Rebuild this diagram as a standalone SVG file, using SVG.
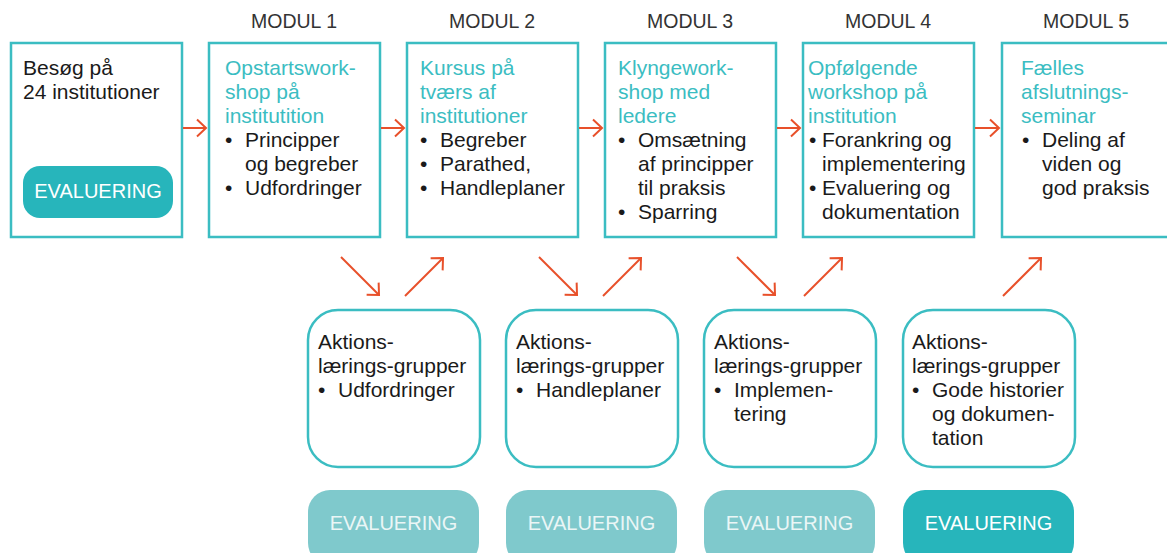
<svg xmlns="http://www.w3.org/2000/svg" width="1167" height="553" viewBox="0 0 1167 553">
<style>
.box{fill:#fff;stroke:#3bbdc2;stroke-width:2.5}
.t{font-family:"Liberation Sans",Arial,sans-serif;font-size:21px;fill:#1a1a1a}
.h{fill:#3bbdc2}
.mod{font-family:"Liberation Sans",Arial,sans-serif;font-size:19.5px;fill:#333;text-anchor:middle}
.ev{font-family:"Liberation Sans",Arial,sans-serif;font-size:20px;text-anchor:middle}
.pillA{fill:#27b5bb}
.pillB{fill:#7fc9cc}
.arr{stroke:#e8502a;stroke-width:2;fill:none;marker-end:url(#ah)}
</style>
<defs>
<marker id="ah" markerUnits="userSpaceOnUse" markerWidth="20" markerHeight="20" viewBox="0 0 20 20" refX="9" refY="8.5" orient="auto" overflow="visible">
<path d="M0,0 L9,8.5 L0,17" fill="none" stroke="#e8502a" stroke-width="2"/>
</marker>
</defs>
<g id="labels">
<text class="mod" x="294" y="28">MODUL 1</text>
<text class="mod" x="492" y="28">MODUL 2</text>
<text class="mod" x="690" y="28">MODUL 3</text>
<text class="mod" x="888" y="28">MODUL 4</text>
<text class="mod" x="1086" y="28">MODUL 5</text>
</g>
<g id="start">
<rect class="box" x="11" y="43" width="171" height="194"/>
<text class="t" x="23" y="75">Besøg på</text>
<text class="t" x="23" y="99">24 institutioner</text>
<rect class="pillA" x="23" y="166" width="150" height="52" rx="17"/>
<text class="ev" x="98" y="198" fill="#fff">EVALUERING</text>
</g>
<g id="m1">
<rect class="box" x="209" y="43" width="171" height="194"/>
<text class="t h" x="225" y="75">Opstartswork-</text>
<text class="t h" x="225" y="99">shop på</text>
<text class="t h" x="225" y="123">institutition</text>
<text class="t" x="225" y="147">•</text><text class="t" x="245" y="147">Principper</text>
<text class="t" x="245" y="171">og begreber</text>
<text class="t" x="225" y="195">•</text><text class="t" x="245" y="195">Udfordringer</text>
</g>
<g id="m2">
<rect class="box" x="407" y="43" width="171" height="194"/>
<text class="t h" x="420" y="75">Kursus på</text>
<text class="t h" x="420" y="99">tværs af</text>
<text class="t h" x="420" y="123">institutioner</text>
<text class="t" x="420" y="147">•</text><text class="t" x="440" y="147">Begreber</text>
<text class="t" x="420" y="171">•</text><text class="t" x="440" y="171">Parathed,</text>
<text class="t" x="420" y="195">•</text><text class="t" x="440" y="195">Handleplaner</text>
</g>
<g id="m3">
<rect class="box" x="605" y="43" width="171" height="194"/>
<text class="t h" x="618" y="75">Klyngework-</text>
<text class="t h" x="618" y="99">shop med</text>
<text class="t h" x="618" y="123">ledere</text>
<text class="t" x="618" y="147">•</text><text class="t" x="638" y="147">Omsætning</text>
<text class="t" x="638" y="171">af principper</text>
<text class="t" x="638" y="195">til praksis</text>
<text class="t" x="618" y="219">•</text><text class="t" x="638" y="219">Sparring</text>
</g>
<g id="m4">
<rect class="box" x="803" y="43" width="171" height="194"/>
<text class="t h" x="808" y="75">Opfølgende</text>
<text class="t h" x="808" y="99">workshop på</text>
<text class="t h" x="808" y="123">institution</text>
<text class="t" x="809" y="147">•</text><text class="t" x="822" y="147">Forankring og</text>
<text class="t" x="822" y="171">implementering</text>
<text class="t" x="809" y="195">•</text><text class="t" x="822" y="195">Evaluering og</text>
<text class="t" x="822" y="219">dokumentation</text>
</g>
<g id="m5">
<rect class="box" x="1002" y="43" width="180" height="194"/>
<text class="t h" x="1021" y="75">Fælles</text>
<text class="t h" x="1021" y="99">afslutnings-</text>
<text class="t h" x="1021" y="123">seminar</text>
<text class="t" x="1022" y="147">•</text><text class="t" x="1042" y="147">Deling af</text>
<text class="t" x="1042" y="171">viden og</text>
<text class="t" x="1042" y="195">god praksis</text>
</g>
<g id="alg1">
<rect class="box" x="308" y="310" width="172" height="157" rx="30"/>
<text class="t" x="318" y="349">Aktions-</text>
<text class="t" x="318" y="373">lærings-grupper</text>
<text class="t" x="318" y="397">•</text><text class="t" x="338" y="397">Udfordringer</text>
</g>
<g id="alg2">
<rect class="box" x="506" y="310" width="172" height="157" rx="30"/>
<text class="t" x="516" y="349">Aktions-</text>
<text class="t" x="516" y="373">lærings-grupper</text>
<text class="t" x="516" y="397">•</text><text class="t" x="536" y="397">Handleplaner</text>
</g>
<g id="alg3">
<rect class="box" x="704" y="310" width="172" height="157" rx="30"/>
<text class="t" x="714" y="349">Aktions-</text>
<text class="t" x="714" y="373">lærings-grupper</text>
<text class="t" x="714" y="397">•</text><text class="t" x="734" y="397">Implemen-</text>
<text class="t" x="734" y="421">tering</text>
</g>
<g id="alg4">
<rect class="box" x="903" y="310" width="172" height="157" rx="30"/>
<text class="t" x="912" y="349">Aktions-</text>
<text class="t" x="912" y="373">lærings-grupper</text>
<text class="t" x="912" y="397">•</text><text class="t" x="932" y="397">Gode historier</text>
<text class="t" x="932" y="421">og dokumen-</text>
<text class="t" x="932" y="445">tation</text>
</g>
<g id="ev1">
<rect class="pillB" x="308" y="490" width="171" height="75" rx="22"/>
<text class="ev" x="393.5" y="530" fill="#eaf6f6">EVALUERING</text>
</g>
<g id="ev2">
<rect class="pillB" x="506" y="490" width="171" height="75" rx="22"/>
<text class="ev" x="591.5" y="530" fill="#eaf6f6">EVALUERING</text>
</g>
<g id="ev3">
<rect class="pillB" x="704" y="490" width="171" height="75" rx="22"/>
<text class="ev" x="789.5" y="530" fill="#eaf6f6">EVALUERING</text>
</g>
<g id="ev4">
<rect class="pillA" x="903" y="490" width="171" height="75" rx="22"/>
<text class="ev" x="988.5" y="530" fill="#fff">EVALUERING</text>
</g>
<g id="connectors">
<line class="arr" x1="183" y1="128" x2="206" y2="128"/>
<line class="arr" x1="381" y1="128" x2="404" y2="128"/>
<line class="arr" x1="579" y1="128" x2="602" y2="128"/>
<line class="arr" x1="777" y1="128" x2="800" y2="128"/>
<line class="arr" x1="975" y1="128" x2="999" y2="128"/>
<line class="arr" x1="341" y1="257" x2="379" y2="295"/>
<line class="arr" x1="405" y1="296" x2="443" y2="258"/>
<line class="arr" x1="539" y1="257" x2="577" y2="295"/>
<line class="arr" x1="603" y1="296" x2="641" y2="258"/>
<line class="arr" x1="737" y1="257" x2="775" y2="295"/>
<line class="arr" x1="804" y1="296" x2="842" y2="258"/>
<line class="arr" x1="1003" y1="296" x2="1041" y2="258"/>
</g>
</svg>
